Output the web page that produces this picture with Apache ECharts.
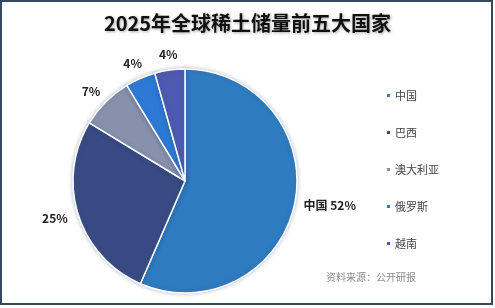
<!DOCTYPE html>
<html>
	<head>
		<meta charset="utf-8">
		<title></title>
		<style type="text/css">
			body{
				margin: 0;
				background: #fff;
			}
			#main{
				position: absolute;
				left: 0;
				top: 0;
				width: 495px;
				height: 308px;
			}
			#frame{
				position: absolute;
				left: 0;
				top: 0;
				width: 489px;
				height: 301px;
				border: 2px solid #34495e;
				pointer-events: none;
			}
		</style>
	</head>
	<body>
		<div id="main"></div>
		<div id="frame"></div>
	</body>
<script src="https://cdn.jsdelivr.net/npm/echarts@6/dist/echarts.min.js" type="text/javascript" charset="utf-8"></script>

<script type="text/javascript">
	// 国家和储量占比(%)
	var countries = ['中国', '巴西', '澳大利亚', '俄罗斯', '越南'];
	var shares = [52, 25, 7, 4, 4];
	var colors = ['#2e7bbf', '#374b82', '#8791ab', '#2d7ad6', '#4c5bb0'];
	// 每个标签离饼的距离(微调)
	var lineLen = [7, 12, 14, 16, 16];
	var labelGap = [2, -1, -4.5, -8, -10];

	var pieData = [];
	for (var i = 0; i < countries.length; i++) {
		pieData.push({
			name: countries[i],
			value: shares[i],
			itemStyle: { color: colors[i] },
			label: { distanceToLabelLine: labelGap[i] },
			labelLine: { length: lineLen[i] }
		});
	}
	// 中国的标签带名字
	pieData[0].label.formatter = function (p) { return p.name + ' ' + p.value + '%'; };

	var chartDom = document.getElementById('main');
	var myChart = echarts.init(chartDom);
	var option;

	option = {
		animation: false,
		title: {
			text: '2025年全球稀土储量前五大国家',
			left: 'center',
			top: 8,
			textStyle: {
				fontFamily: 'Noto Sans CJK SC',
				fontSize: 20,
				fontWeight: 'bold',
				color: '#111',
				textShadowColor: 'rgba(0,0,0,0.35)',
				textShadowBlur: 3,
				textShadowOffsetX: 1,
				textShadowOffsetY: 1
			}
		},
		legend: {
			orient: 'vertical',
			left: 380,
			top: 85,
			itemWidth: 5,
			itemHeight: 5,
			itemGap: 26,
			icon: 'rect',
			data: countries,
			textStyle: {
				fontFamily: 'Noto Sans CJK SC',
				fontSize: 11,
				color: '#444',
				padding: [0, 0, 0, -1]
			}
		},
		graphic: [{
			type: 'text',
			left: 326,
			top: 272,
			style: {
				text: '资料来源：公开研报',
				fontFamily: 'Noto Sans CJK SC',
				fontSize: 10,
				fill: '#8a8a8a'
			}
		}],
		series: [
			{
				type: 'pie',
				center: [185, 181],
				radius: 112,
				startAngle: 90,
				clockwise: true,
				avoidLabelOverlap: false,
				data: pieData,
				itemStyle: {
					borderColor: '#fff',
					borderWidth: 1.5,
					shadowBlur: 4,
					shadowColor: 'rgba(60,80,120,0.35)'
				},
				label: {
					position: 'outside',
					formatter: function (p) { return p.value + '%'; },
					fontFamily: 'Noto Sans CJK SC',
					fontSize: 12,
					fontWeight: 'bold',
					color: '#222'
				},
				labelLine: {
					show: false,
					length2: 0
				}
			}
		]
	};

	option && myChart.setOption(option);
</script>
</html>
